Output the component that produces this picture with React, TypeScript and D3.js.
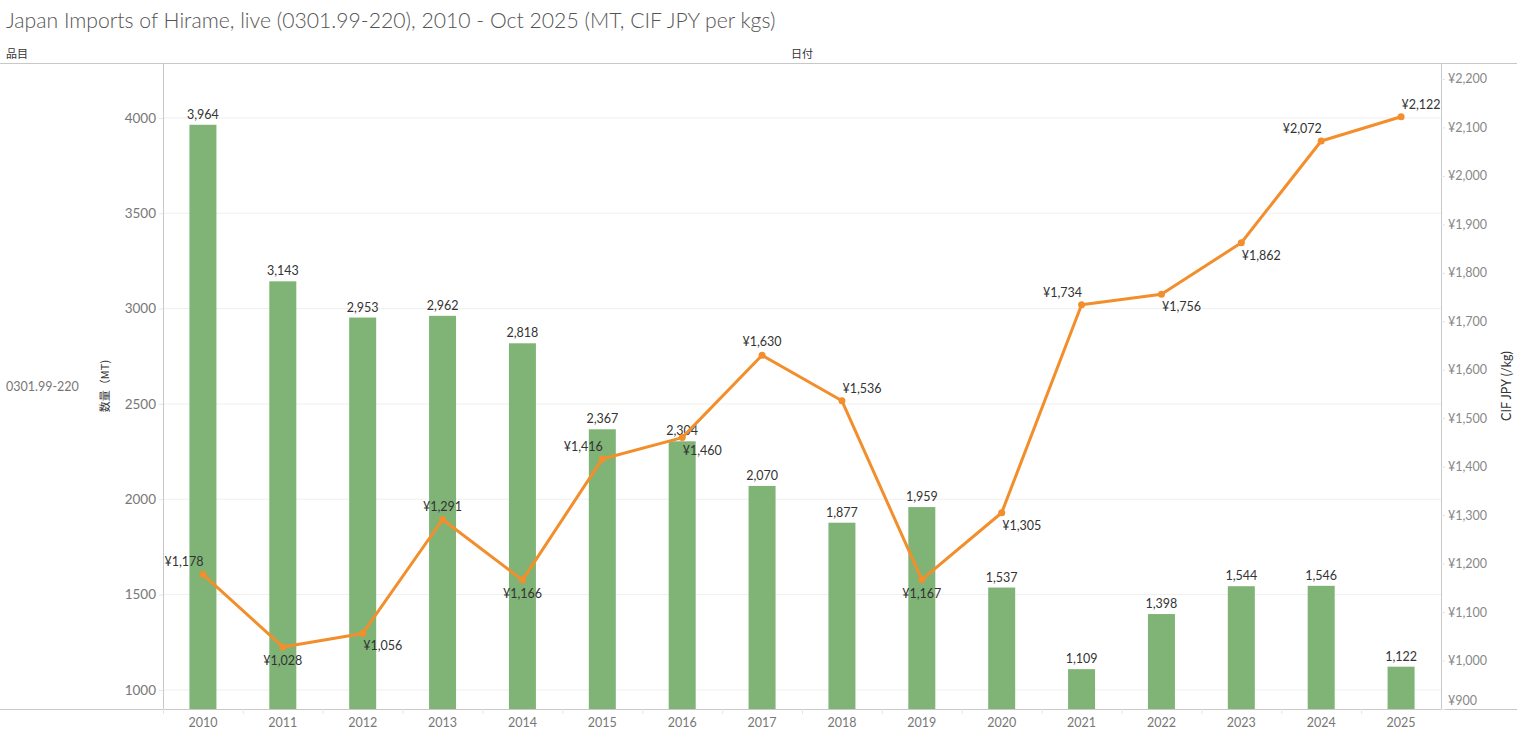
import { useRef, useEffect } from 'react';
import * as d3 from 'd3';

const years = ['2010', '2011', '2012', '2013', '2014', '2015', '2016', '2017', '2018', '2019', '2020', '2021', '2022', '2023', '2024', '2025'];
const volumeMT = [3964, 3143, 2953, 2962, 2818, 2367, 2304, 2070, 1877, 1959, 1537, 1109, 1398, 1544, 1546, 1122];
const priceJPY = [1178, 1028, 1056, 1291, 1166, 1416, 1460, 1630, 1536, 1167, 1305, 1734, 1756, 1862, 2072, 2122];
// where tableau put each price label relative to its point
const priceLabelSide = ['tl', 'b', 'br', 't', 'b', 'tl', 'br', 't', 'tr', 'b', 'br', 'tl', 'br', 'br', 'tl', 'tr'];
const leftTicks = [1000, 1500, 2000, 2500, 3000, 3500, 4000];
const rightTicks = [900, 1000, 1100, 1200, 1300, 1400, 1500, 1600, 1700, 1800, 1900, 2000, 2100, 2200];

const FONT = 'Lato, "Noto Sans", sans-serif';
const CJK = '"Noto Sans CJK JP", sans-serif';

const App = () => {
    const svgRef = useRef<SVGSVGElement | null>(null);

    useEffect(() => {
        document.body.style.margin = '0';
        const svgElement = svgRef.current;
        if (!svgElement) return;

        const width = 1517;
        const plot = { left: 163, right: 1441, top: 63, bottom: 709 };

        const svg = d3.select(svgElement);
        svg.selectAll('*').remove();

        const x = d3.scaleBand<string>()
            .domain(years)
            .range([plot.left, plot.right]);

        const yLeft = d3.scaleLinear()
            .domain([900, 4288])
            .range([plot.bottom, plot.top]);

        const yRight = d3.scaleLinear()
            .domain([900, 2233])
            .range([plot.bottom, plot.top]);

        // title + headers
        svg.append('text')
            .attr('x', 6)
            .attr('y', 28)
            .text('Japan Imports of Hirame, live (0301.99-220), 2010 - Oct 2025 (MT, CIF JPY per kgs)')
            .style('font-family', FONT)
            .style('font-size', '21.2px')
            .style('font-weight', 300)
            .style('fill', '#555');

        svg.append('text')
            .attr('x', 6)
            .attr('y', 58)
            .text('品目')
            .style('font-family', CJK)
            .style('font-size', '11px')
            .style('fill', '#333');

        svg.append('text')
            .attr('x', (plot.left + plot.right) / 2)
            .attr('y', 58)
            .attr('text-anchor', 'middle')
            .text('日付')
            .style('font-family', CJK)
            .style('font-size', '11px')
            .style('fill', '#333');

        svg.append('text')
            .attr('x', 6)
            .attr('y', 391)
            .text('0301.99-220')
            .style('font-family', FONT)
            .style('font-size', '12.5px')
            .style('fill', '#777');

        // gridlines
        svg.append('g')
            .selectAll('line')
            .data(leftTicks)
            .join('line')
            .attr('x1', plot.left)
            .attr('x2', plot.right)
            .attr('y1', d => yLeft(d))
            .attr('y2', d => yLeft(d))
            .attr('stroke', '#efefef')
            .attr('stroke-width', 1);

        // frame lines
        const frame = svg.append('g').attr('stroke', '#c8c8c8').attr('stroke-width', 1);
        frame.append('line').attr('x1', 0).attr('x2', width).attr('y1', plot.top + 0.5).attr('y2', plot.top + 0.5);
        frame.append('line').attr('x1', 0).attr('x2', width).attr('y1', plot.bottom + 0.5).attr('y2', plot.bottom + 0.5);
        frame.append('line').attr('x1', plot.left + 0.5).attr('x2', plot.left + 0.5).attr('y1', plot.top).attr('y2', plot.bottom);
        frame.append('line').attr('x1', plot.right + 0.5).attr('x2', plot.right + 0.5).attr('y1', plot.top).attr('y2', plot.bottom);

        // left axis
        const leftAxis = svg.append('g')
            .attr('transform', `translate(${plot.left}, 0)`)
            .call(d3.axisLeft(yLeft).tickValues(leftTicks).tickSize(4).tickPadding(3).tickFormat(d3.format('d')));
        leftAxis.select('.domain').remove();
        leftAxis.selectAll('line').attr('stroke', '#e6e6e6');
        leftAxis.selectAll('text')
            .attr('fill', '#777')
            .style('font-family', FONT)
            .style('font-size', '13.5px');

        // right axis
        const rightAxis = svg.append('g')
            .attr('transform', `translate(${plot.right}, 0)`)
            .call(d3.axisRight(yRight).tickValues(rightTicks).tickSize(4).tickPadding(3).tickFormat(d => '¥' + d3.format(',')(d as number)));
        rightAxis.select('.domain').remove();
        rightAxis.selectAll('line').attr('stroke', '#e6e6e6');
        rightAxis.selectAll('text')
            .attr('fill', '#888')
            .style('font-family', FONT)
            .style('font-size', '12.5px');
        rightAxis.selectAll<SVGTextElement, number>('text')
            .filter(d => d === 900)
            .attr('dy', '-0.35em');

        // bottom axis
        const bottomAxis = svg.append('g')
            .attr('transform', `translate(0, ${plot.bottom})`)
            .call(d3.axisBottom(x).tickSize(0).tickPadding(9));
        bottomAxis.select('.domain').remove();
        bottomAxis.selectAll('text')
            .attr('fill', '#777')
            .style('font-family', FONT)
            .style('font-size', '12.5px');
        svg.append('g')
            .selectAll('line')
            .data(years)
            .join('line')
            .attr('x1', d => (x(d) as number) + 0.5)
            .attr('x2', d => (x(d) as number) + 0.5)
            .attr('y1', plot.bottom)
            .attr('y2', plot.bottom + 5)
            .attr('stroke', '#e6e6e6');

        // axis titles
        svg.append('text')
            .attr('transform', `translate(109, ${(plot.top + plot.bottom) / 2}) rotate(-90)`)
            .attr('text-anchor', 'middle')
            .text('数量（MT)')
            .style('font-family', CJK)
            .style('font-size', '11px')
            .style('fill', '#333');

        svg.append('text')
            .attr('transform', `translate(1511, ${(plot.top + plot.bottom) / 2}) rotate(-90)`)
            .attr('text-anchor', 'middle')
            .text('CIF JPY (/kg)')
            .style('font-family', FONT)
            .style('font-size', '12.5px')
            .style('fill', '#333');

        // bars
        const barWidth = 27;
        const cx = (yr: string) => (x(yr) as number) + x.bandwidth() / 2;
        svg.append('g')
            .selectAll('rect')
            .data(volumeMT)
            .join('rect')
            .attr('x', (_, i) => cx(years[i]) - barWidth / 2)
            .attr('y', d => yLeft(d))
            .attr('width', barWidth)
            .attr('height', d => plot.bottom - yLeft(d))
            .attr('fill', '#80b477');

        svg.append('g')
            .selectAll('text')
            .data(volumeMT)
            .join('text')
            .attr('x', (_, i) => cx(years[i]))
            .attr('y', d => yLeft(d) - 6)
            .attr('text-anchor', 'middle')
            .text(d => d3.format(',')(d))
            .style('font-family', FONT)
            .style('font-size', '12.5px')
            .style('fill', '#333');

        // price line
        const line = d3.line<number>()
            .x((_, i) => cx(years[i]))
            .y(d => yRight(d));

        svg.append('path')
            .datum(priceJPY)
            .attr('fill', 'none')
            .attr('stroke', '#f28e2b')
            .attr('stroke-width', 3)
            .attr('stroke-linejoin', 'round')
            .attr('d', line);

        svg.append('g')
            .selectAll('circle')
            .data(priceJPY)
            .join('circle')
            .attr('cx', (_, i) => cx(years[i]))
            .attr('cy', d => yRight(d))
            .attr('r', 3.5)
            .attr('fill', '#f28e2b');

        const offsets: Record<string, [number, number]> = {
            t: [0, -9],
            b: [0, 18],
            tl: [-19, -8],
            tr: [20, -8],
            br: [20, 17],
        };

        svg.append('g')
            .selectAll('text')
            .data(priceJPY)
            .join('text')
            .attr('x', (_, i) => cx(years[i]) + offsets[priceLabelSide[i]][0])
            .attr('y', (d, i) => yRight(d) + offsets[priceLabelSide[i]][1])
            .attr('text-anchor', 'middle')
            .text(d => '¥' + d3.format(',')(d))
            .style('font-family', FONT)
            .style('font-size', '12.5px')
            .style('fill', '#333');
    }, []);

    return (
        <svg ref={svgRef} width={1517} height={732} style={{ display: 'block', background: '#fff' }}></svg>
    );
};

export default App;
